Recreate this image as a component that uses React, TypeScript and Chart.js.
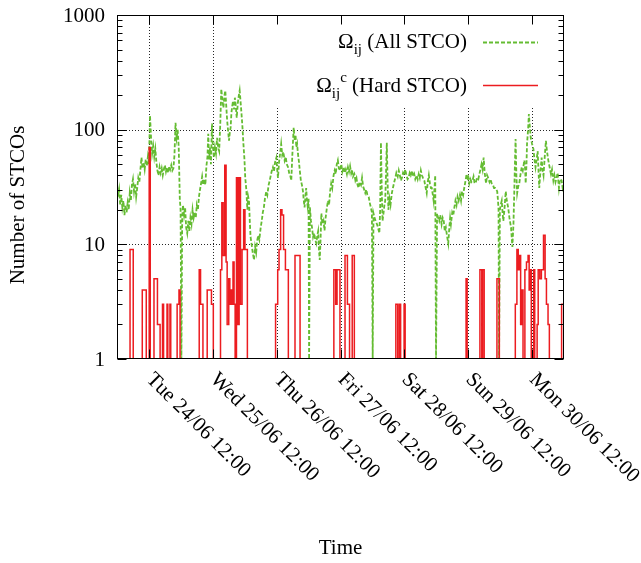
import React, { useEffect, useRef } from "react";
import { Chart, registerables } from "chart.js";

Chart.register(...registerables);

// ---- data (x = hours since Tue 24/06 00:00) ----
const dayTickHours = [12, 36, 60, 84, 108, 132, 156];
const dayTickLabels = [
  "Tue 24/06 12:00",
  "Wed 25/06 12:00",
  "Thu 26/06 12:00",
  "Fri 27/06 12:00",
  "Sat 28/06 12:00",
  "Sun 29/06 12:00",
  "Mon 30/06 12:00",
];
const yTickValues = [1, 10, 100, 1000];
const yTickLabels = ["1", "10", "100", "1000"];

// Omega_ij (All STCO): [hour, count]
const allStco: [number, number][] = [
  [0, 33], [0.4, 26], [0.8, 30], [1.2, 22], [1.6, 27], [2, 21], [2.4, 24], [2.8, 18], [3.2, 22], [3.6, 19],
  [4, 23], [4.4, 20], [4.8, 28], [5.2, 24], [5.6, 33], [6, 37], [6.4, 29], [6.8, 34], [7.2, 26], [7.6, 31],
  [8, 38], [8.4, 35], [8.8, 45], [9.2, 57], [9.6, 46], [10, 52], [10.4, 45], [10.8, 55], [11.2, 48], [11.6, 58],
  [12, 50], [12.4, 133], [12.8, 85], [13.2, 62], [13.6, 72], [14, 58], [14.4, 68], [14.8, 52], [15.2, 44], [15.6, 40],
  [16, 47], [16.4, 42], [16.8, 46], [17.2, 40], [17.6, 45], [18, 49], [18.4, 43], [18.8, 47], [19.2, 42], [19.6, 48],
  [20, 45], [20.4, 49], [20.8, 44], [21.2, 46], [21.6, 60], [22, 115], [22.4, 85], [22.8, 100], [23.2, 70], [23.6, 25],
  [23.9, 20], [24.2, 1], [24.5, 17], [24.8, 22], [25.2, 18], [25.6, 21], [26, 14], [26.4, 12.5], [26.8, 16], [27.2, 13],
  [27.6, 17], [28, 15], [28.4, 20], [28.8, 17], [29.2, 19], [29.6, 17], [30, 22], [30.4, 20], [30.8, 26], [31.2, 30],
  [31.6, 34], [32, 39], [32.4, 33], [32.8, 37], [33.2, 33], [33.6, 48], [34, 58], [34.3, 92], [34.6, 55], [35, 70],
  [35.3, 50], [35.7, 113], [36, 75], [36.4, 57], [36.8, 70], [37.2, 62], [37.6, 85], [38, 70], [38.4, 65], [38.8, 110],
  [39.2, 226], [39.6, 180], [40, 155], [40.4, 200], [40.7, 219], [41, 170], [41.4, 120], [41.8, 95], [42.1, 80], [42.4, 95],
  [42.7, 104], [43, 140], [43.3, 160], [43.6, 178], [44, 150], [44.3, 190], [44.6, 165], [45, 127], [45.4, 170], [45.8, 200],
  [46.1, 219], [46.4, 180], [46.8, 137], [47.1, 110], [47.5, 76], [47.9, 55], [48.2, 38], [48.6, 30], [49, 20], [49.3, 26],
  [49.6, 24], [49.9, 16], [50.2, 11.6], [50.6, 10], [51, 8.5], [51.5, 7.3], [51.9, 9.5], [52.3, 8.5], [52.7, 10.8], [53.1, 12],
  [53.5, 11], [54, 14], [54.4, 16], [54.8, 19], [55.2, 21], [55.6, 25], [56.1, 29], [56.5, 27], [57, 33], [57.4, 36],
  [57.8, 40], [58.2, 44], [58.6, 47], [59, 43], [59.4, 52], [59.9, 57], [60.2, 45], [60.5, 38], [60.9, 52], [61.3, 62],
  [61.7, 75], [62.1, 60], [62.5, 64], [63, 54], [63.4, 58], [63.8, 50], [64.3, 47], [64.7, 42], [65.1, 40], [65.5, 36],
  [65.9, 60], [66.4, 104], [66.8, 80], [67.1, 90], [67.4, 70], [67.7, 75], [68, 62], [68.4, 52], [68.7, 44], [69.1, 36],
  [69.5, 33], [69.9, 29], [70.2, 24], [70.5, 21], [70.8, 26], [71.1, 31], [71.4, 24], [71.7, 21], [72, 25], [72.2, 1],
  [72.5, 21], [72.9, 16], [73.3, 14], [73.7, 11.6], [74.1, 12.5], [74.5, 11], [74.9, 10.2], [75.3, 12], [75.6, 13], [75.9, 9],
  [76.2, 7.3], [76.5, 11], [76.8, 18.6], [77.2, 15], [77.6, 16], [78, 13.2], [78.4, 17], [78.9, 21], [79.3, 24], [79.7, 22],
  [80.1, 29], [80.5, 34], [80.9, 31], [81.4, 40], [81.8, 44], [82.2, 41], [82.6, 50], [83, 54], [83.4, 46], [83.9, 44],
  [84.3, 50], [84.7, 43], [85.2, 47], [85.6, 42], [86, 45], [86.4, 41], [86.8, 47], [87.2, 43], [87.6, 48], [88, 42],
  [88.3, 45], [88.7, 39], [89.2, 41], [89.6, 36], [90, 38], [90.4, 33], [90.8, 31], [91.2, 35], [91.7, 33], [92.1, 38],
  [92.5, 32], [92.9, 30], [93.3, 28], [93.7, 30], [94.1, 27], [94.6, 26], [95, 23], [95.4, 21], [95.8, 19], [96.1, 1],
  [96.4, 18.6], [96.8, 17], [97.2, 16], [97.7, 15], [98.1, 14], [98.6, 12.5], [98.9, 20], [99.2, 77], [99.5, 30], [99.8, 16],
  [100.2, 19], [100.5, 22], [100.8, 24], [101.1, 40], [101.4, 77], [101.7, 35], [102, 20], [102.4, 25], [102.8, 22], [103.3, 28],
  [103.7, 31], [104.2, 35], [104.6, 38], [105, 42], [105.5, 39], [105.9, 44], [106.3, 40], [106.7, 36], [107.1, 38], [107.5, 42],
  [107.9, 40], [108.3, 45], [108.7, 41], [109.2, 37], [109.6, 38], [110, 42], [110.4, 40], [110.9, 44], [111.3, 39], [111.7, 41],
  [112.1, 37], [112.6, 40], [113, 37], [113.4, 41], [113.8, 38], [114.2, 44], [114.6, 40], [115, 38], [115.5, 36], [115.9, 32],
  [116.4, 28], [116.8, 35], [117.2, 40], [117.6, 34], [118, 31], [118.3, 31], [118.7, 27], [119, 24], [119.3, 30], [119.6, 40],
  [119.9, 1], [120.3, 18.6], [120.7, 17], [121.1, 16], [121.5, 18], [122, 15], [122.4, 17], [122.8, 16], [123.2, 13], [123.6, 14],
  [124, 12], [124.5, 10.2], [124.9, 14], [125.2, 17], [125.5, 15], [126, 19], [126.4, 18], [126.8, 21], [127.2, 24], [127.6, 22],
  [128, 26], [128.4, 24], [128.9, 27], [129.3, 24], [129.7, 29], [130.1, 27], [130.5, 31], [131, 36], [131.4, 41], [131.8, 36],
  [132.1, 38], [132.4, 34], [132.8, 37], [133.2, 35], [133.6, 36], [134, 39], [134.4, 34], [134.9, 35], [135.3, 38], [135.8, 37],
  [136.2, 41], [136.6, 45], [137, 50], [137.4, 45], [137.8, 57], [138.2, 42], [138.7, 34], [139.1, 40], [139.5, 38], [140, 35],
  [140.4, 37], [140.8, 34], [141.3, 33], [141.7, 31], [142.1, 31], [142.5, 30], [142.9, 29], [143.2, 24], [143.4, 20], [143.6, 1],
  [143.9, 20], [144.2, 22], [144.6, 24], [144.9, 19], [145.2, 16], [145.6, 20], [146.1, 29], [146.5, 24], [147, 21], [147.5, 17],
  [148.1, 14], [148.4, 11], [148.6, 9.5], [149, 15], [149.3, 28], [149.6, 55], [149.8, 83], [150.1, 40], [150.4, 28], [150.8, 32],
  [151.2, 34], [151.6, 40], [152.1, 47], [152.5, 44], [153.1, 54], [153.4, 45], [153.6, 34], [153.9, 50], [154.1, 75], [154.5, 100],
  [154.8, 137], [155.1, 110], [155.5, 85], [156, 75], [156.5, 68], [156.9, 55], [157.3, 47], [157.7, 55], [158.1, 65], [158.4, 45],
  [158.7, 31], [159.1, 42], [159.6, 57], [159.9, 45], [160.3, 40], [160.8, 60], [161.2, 80], [161.6, 65], [162.1, 54], [162.6, 47],
  [163.1, 41], [163.5, 45], [164, 36], [164.4, 40], [164.8, 35], [165.2, 38], [165.6, 42], [166.1, 31], [166.5, 37], [167.1, 36],
  [167.5, 31], [168, 34],
];

// Omega_ij^c (Hard STCO): [hour, count] held until the next hour (steps)
const hardStco: [number, number][] = [
  [0, 1], [4.9, 9], [6.1, 1], [9.5, 4], [11, 1], [12.1, 70], [12.5, 1], [13.9, 5], [15.2, 2], [16.2, 1],
  [17.1, 3], [17.5, 1], [18.8, 3], [19.1, 1], [19.9, 3], [20.2, 1], [22.6, 3], [23.3, 4], [23.7, 1],
  [30.9, 6], [31.4, 3], [32.3, 1], [33.9, 4], [35.5, 3], [36.2, 1], [38.9, 6], [39.4, 23], [39.9, 8], [40.5, 49],
  [41, 7], [41.4, 2], [42, 5], [42.4, 3], [42.8, 4], [43.2, 3], [43.6, 7], [44, 3], [44.4, 1], [44.9, 38],
  [45.4, 2], [45.9, 38], [46.4, 3], [47, 9], [47.6, 20], [48.1, 9], [49, 1],
  [59.6, 3], [60.4, 6], [60.9, 9], [61.5, 20], [62, 18], [62.6, 9], [63.3, 6], [64.4, 1], [66.9, 8], [68.8, 1],
  [81.5, 6], [82.2, 3], [82.7, 6], [83.8, 1], [85.7, 8], [86.6, 3], [87.4, 1], [88.4, 8], [89.2, 1],
  [104.8, 3], [105.5, 1], [106.1, 3], [106.6, 1], [107.9, 3], [108.3, 1],
  [131.2, 5], [131.6, 1], [136.4, 6], [137.1, 1], [137.4, 6], [138, 1], [142.8, 5], [143.7, 1],
  [149.7, 3], [150.3, 9], [150.8, 6], [151.2, 8], [151.7, 2], [152.1, 4], [152.6, 1], [153.3, 6], [153.9, 7], [154.5, 8],
  [154.9, 4], [155.3, 6], [155.7, 1], [156.6, 6], [157, 1], [157.9, 2], [158.3, 6], [158.9, 5], [159.5, 6], [160.3, 12],
  [160.9, 5], [161.4, 3], [162, 2], [162.5, 1], [167.1, 3], [168, 3],
];

const GREEN = "rgb(100,188,50)";
const RED = "rgb(236,28,32)";
const FONT = '"Liberation Serif", "Times New Roman", serif';
const FS = 21;

function drawLegendEntry(ctx: CanvasRenderingContext2D, rightX: number, baseY: number, withSup: boolean, rest: string) {
  const big = `${FS}px ${FONT}`;
  const small = `${Math.round(FS * 0.72)}px ${FONT}`;
  ctx.font = big;
  const wO = ctx.measureText("\u03A9").width;
  const wRest = ctx.measureText(rest).width;
  ctx.font = small;
  const wSub = ctx.measureText("ij").width;
  const wSup = withSup ? ctx.measureText("c").width : 0;
  const total = wO + wSub + wSup + wRest;
  let x = rightX - total;
  ctx.textAlign = "left";
  ctx.textBaseline = "alphabetic";
  ctx.fillStyle = "#000";
  ctx.font = big;
  ctx.fillText("\u03A9", x, baseY);
  x += wO;
  ctx.font = small;
  ctx.fillText("ij", x, baseY + 6);
  x += wSub;
  if (withSup) {
    ctx.fillText("c", x, baseY - 10);
    x += wSup;
  }
  ctx.font = big;
  ctx.fillText(rest, x, baseY);
}

const gnuplotPlugin = {
  id: "gnuplotFrame",
  beforeDatasetsDraw(chart: any) {
    const { ctx, chartArea: a, scales } = chart;
    const xs = scales.x;
    const ys = scales.y;
    ctx.save();
    ctx.strokeStyle = "rgba(0,0,0,0.85)";
    ctx.lineWidth = 1;
    ctx.setLineDash([1, 2]);
    for (const h of dayTickHours) {
      const x = Math.round(xs.getPixelForValue(h)) + 0.5;
      const y0 = x > a.left + 140 ? a.top + 93 : a.top;
      ctx.beginPath();
      ctx.moveTo(x, y0);
      ctx.lineTo(x, a.bottom);
      ctx.stroke();
    }
    for (const v of [10, 100]) {
      const y = Math.round(ys.getPixelForValue(v)) + 0.5;
      ctx.beginPath();
      ctx.moveTo(a.left, y);
      ctx.lineTo(a.right, y);
      ctx.stroke();
    }
    ctx.restore();
  },
  afterDatasetsDraw(chart: any) {
    const { ctx, chartArea: a, scales } = chart;
    const xs = scales.x;
    const ys = scales.y;
    ctx.save();
    ctx.setLineDash([]);
    ctx.strokeStyle = "#000";
    ctx.lineWidth = 1;
    const L = Math.round(a.left) + 0.5;
    const R = Math.round(a.right) - 0.5;
    const T = Math.round(a.top) + 0.5;
    const B = Math.round(a.bottom) - 0.5;
    ctx.beginPath();
    for (let k = 0; k < 3; k++) {
      for (let m = 1; m <= 10; m++) {
        const v = m * Math.pow(10, k);
        const y = Math.round(ys.getPixelForValue(v)) + 0.5;
        const len = m === 1 || m === 10 ? 9 : 5;
        ctx.moveTo(L, y);
        ctx.lineTo(L + len, y);
        ctx.moveTo(R, y);
        ctx.lineTo(R - len, y);
      }
    }
    for (const h of dayTickHours) {
      const x = Math.round(xs.getPixelForValue(h)) + 0.5;
      ctx.moveTo(x, B);
      ctx.lineTo(x, B - 9);
      ctx.moveTo(x, T);
      ctx.lineTo(x, T + 9);
    }
    ctx.stroke();
    ctx.strokeRect(L, T, R - L, B - T);

    ctx.fillStyle = "#000";
    ctx.font = `${FS}px ${FONT}`;
    ctx.textAlign = "right";
    ctx.textBaseline = "middle";
    yTickValues.forEach((v, i) => {
      ctx.fillText(yTickLabels[i], a.left - 12, ys.getPixelForValue(v) + 1);
    });

    ctx.textAlign = "left";
    ctx.textBaseline = "top";
    dayTickHours.forEach((h, i) => {
      const x = xs.getPixelForValue(h);
      ctx.save();
      ctx.translate(x + 8, a.bottom + 10);
      ctx.rotate(Math.PI / 4);
      ctx.fillText(dayTickLabels[i], 0, 0);
      ctx.restore();
    });

    ctx.textAlign = "center";
    ctx.textBaseline = "middle";
    ctx.fillText("Time", (a.left + a.right) / 2, 548);
    ctx.save();
    ctx.translate(18, 205);
    ctx.rotate(-Math.PI / 2);
    ctx.fillText("Number of STCOs", 0, 0);
    ctx.restore();

    drawLegendEntry(ctx, 467, 48, false, " (All STCO)");
    drawLegendEntry(ctx, 467, 92, true, " (Hard STCO)");
    ctx.lineWidth = 1.8;
    ctx.strokeStyle = GREEN;
    ctx.setLineDash([4, 2]);
    ctx.beginPath();
    ctx.moveTo(483, 42.5);
    ctx.lineTo(538, 42.5);
    ctx.stroke();
    ctx.setLineDash([]);
    ctx.lineWidth = 1.5;
    ctx.strokeStyle = RED;
    ctx.beginPath();
    ctx.moveTo(483, 85.5);
    ctx.lineTo(538, 85.5);
    ctx.stroke();
    ctx.restore();
  },
};

export default function App() {
  const ref = useRef<HTMLCanvasElement | null>(null);
  useEffect(() => {
    const canvas = ref.current;
    if (!canvas) return;
    const chart = new Chart(canvas, {
      type: "line",
      data: {
        datasets: [
          {
            label: "Hard STCO",
            data: hardStco.map(([h, v]) => ({ x: h, y: v })),
            borderColor: RED,
            borderWidth: 1.5,
            stepped: true,
            pointRadius: 0,
            fill: false,
            order: 1,
          },
          {
            label: "All STCO",
            data: allStco.map(([h, v]) => ({ x: h, y: v })),
            borderColor: GREEN,
            borderWidth: 1.8,
            borderDash: [4, 2],
            pointRadius: 0,
            tension: 0,
            fill: false,
            order: 2,
          },
        ],
      },
      options: {
        animation: false,
        responsive: false,
        devicePixelRatio: 1,
        events: [],
        layout: { padding: { top: 15, right: 77, left: 0, bottom: 0 } },
        plugins: { legend: { display: false }, tooltip: { enabled: false } },
        scales: {
          x: {
            type: "linear",
            min: 0,
            max: 168,
            ticks: { display: false },
            grid: { display: false },
            border: { display: false },
            afterFit: (s: any) => {
              s.height = 204;
            },
          },
          y: {
            type: "logarithmic",
            min: 1,
            max: 1000,
            ticks: { display: false },
            grid: { display: false },
            border: { display: false },
            afterFit: (s: any) => {
              s.width = 117;
            },
          },
        },
      },
      plugins: [gnuplotPlugin],
    } as any);
    return () => chart.destroy();
  }, []);
  return (
    <div style={{ position: "fixed", left: 0, top: 0, width: 641, height: 563, background: "#fff" }}>
      <canvas ref={ref} width={641} height={563} style={{ display: "block", width: 641, height: 563 }} />
    </div>
  );
}
